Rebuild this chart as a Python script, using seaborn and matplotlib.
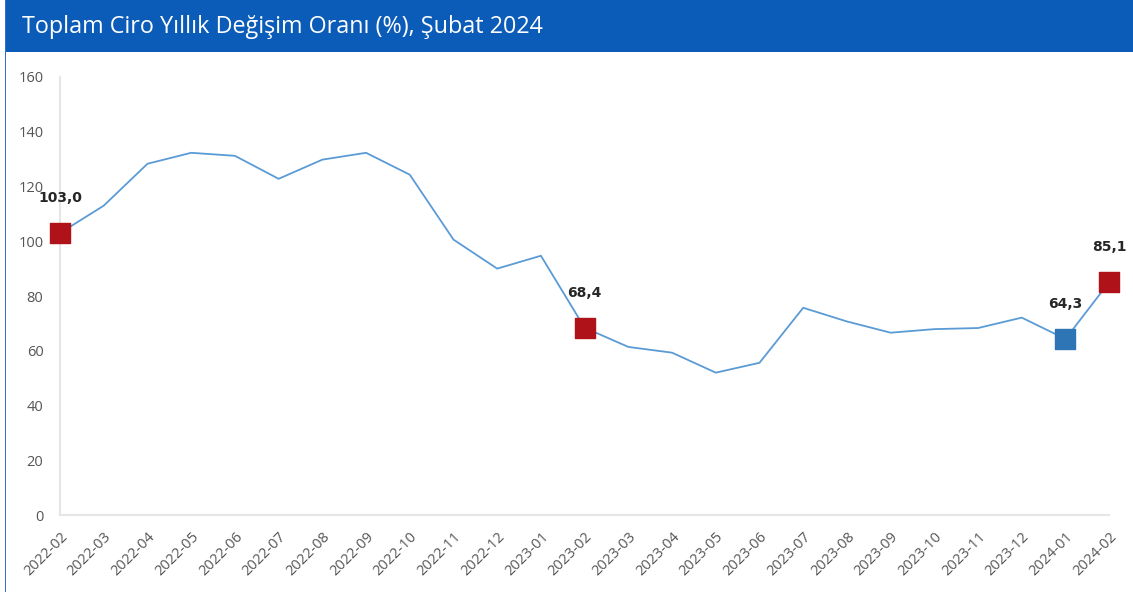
import pandas as pd
import matplotlib.pyplot as plt
import seaborn as sns
from matplotlib.patches import Rectangle

months = ['2022-02', '2022-03', '2022-04', '2022-05', '2022-06', '2022-07', '2022-08',
          '2022-09', '2022-10', '2022-11', '2022-12', '2023-01', '2023-02', '2023-03',
          '2023-04', '2023-05', '2023-06', '2023-07', '2023-08', '2023-09', '2023-10',
          '2023-11', '2023-12', '2024-01', '2024-02']
values = [103.0, 113.0, 128.3, 132.3, 131.2, 122.8, 129.8, 132.3, 124.3, 100.6, 90.0,
          94.7, 68.4, 61.4, 59.3, 52.0, 55.6, 75.7, 70.7, 66.6, 67.9, 68.3, 72.1,
          64.3, 85.1]
# highlighted points
red_months = ['2022-02', '2023-02', '2024-02']
blue_months = ['2024-01']

title = 'Toplam Ciro Yıllık Değişim Oranı (%), Şubat 2024'

df = pd.DataFrame({'ay': months, 'deger': values})
df['x'] = range(len(df))

sns.set_style('white')
plt.rcParams['font.family'] = ['Open Sans', 'DejaVu Sans']

fig = plt.figure(figsize=(11.33, 5.92), dpi=100)
ax = fig.add_axes([0.053, 0.130, 0.926, 0.740])

sns.lineplot(data=df, x='x', y='deger', color='#5b9bd5', linewidth=1.3, ax=ax)

red = df[df['ay'].isin(red_months)]
blue = df[df['ay'].isin(blue_months)]
ax.scatter(red['x'], red['deger'], marker='s', s=190, color='#b01219', zorder=5, clip_on=False)
ax.scatter(blue['x'], blue['deger'], marker='s', s=190, color='#2e75b6', zorder=5, clip_on=False)

for _, r in pd.concat([red, blue]).iterrows():
    ax.annotate(f"{r['deger']:.1f}".replace('.', ','), (r['x'], r['deger']),
                xytext=(0, 20), textcoords='offset points', ha='center', va='bottom',
                fontsize=10, fontweight='bold', color='#262626', family='DejaVu Sans')

ax.set_xlim(0, len(df) - 1)
ax.set_ylim(0, 160)
ax.set_yticks(range(0, 161, 20))
ax.set_xticks(df['x'])
ax.set_xticklabels(df['ay'], rotation=45, ha='right', rotation_mode='anchor')
ax.tick_params(axis='x', labelsize=10.5, colors='#555555', pad=7)
ax.tick_params(axis='y', labelsize=10.5, colors='#555555', pad=8.5)
ax.set_xlabel('')
ax.set_ylabel('')
for s in ['top', 'right']:
    ax.spines[s].set_visible(False)
for s in ['left', 'bottom']:
    ax.spines[s].set_color('#e6e6e6')
    ax.spines[s].set_linewidth(1.5)

# header band and frame
hb = 52 / 592
fig.patches.append(Rectangle((0.004, 1 - hb), 0.996, hb, transform=fig.transFigure,
                             facecolor='#0b5cb8', edgecolor='none', zorder=0))
fig.patches.append(Rectangle((0.004, 0), 0.0015, 1, transform=fig.transFigure,
                             facecolor='#2f6fd0', edgecolor='none', zorder=0))
fig.text(0.019, 1 - 27 / 592, title, color='white', fontsize=16.8, va='center', ha='left')

fig.savefig('out.png', dpi=100)
